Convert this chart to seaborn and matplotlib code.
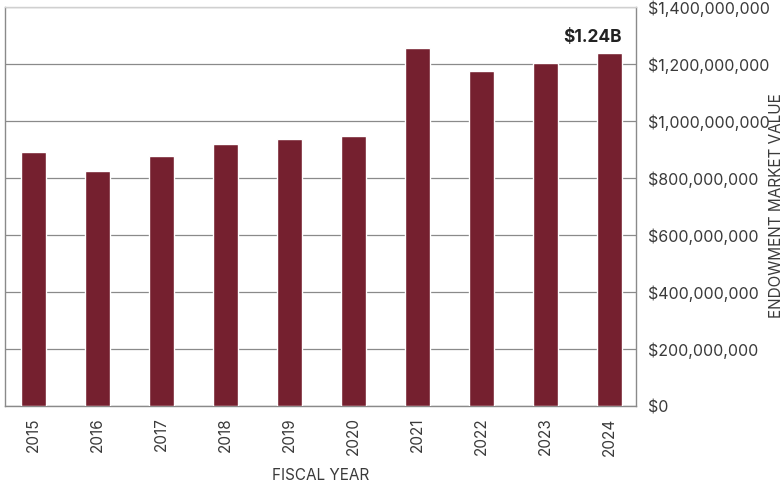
import matplotlib
matplotlib.use("Agg")
import matplotlib.pyplot as plt
import matplotlib.ticker as mticker
import numpy as np
import pandas as pd
import seaborn as sns

# Endowment market value by fiscal year
years = ["2015", "2016", "2017", "2018", "2019", "2020", "2021", "2022", "2023", "2024"]
values = [891e6, 825e6, 877e6, 919e6, 937e6, 947e6, 1256e6, 1175e6, 1204e6, 1239e6]
y_ticks = [0, 200e6, 400e6, 600e6, 800e6, 1000e6, 1200e6, 1400e6]
last_label = "$1.24B"

BAR_COLOR = "#75202f"
TEXT_COLOR = "#3a3a3a"
GRID_COLOR = "#8a8a8a"
BAR_WIDTH = 0.39

sns.set_theme(style="white")
plt.rcParams["font.family"] = ["Inter", "DejaVu Sans"]

df = pd.DataFrame({"year": years, "value": values})

fig = plt.figure(figsize=(7.84, 4.87), dpi=100)
ax = fig.add_axes([0.0064, 0.166, 0.805, 0.820])

sns.barplot(data=df, x="year", y="value", ax=ax, color=BAR_COLOR,
            width=BAR_WIDTH, saturation=1, zorder=3)

ax.set_xlim(-0.44, 9.42)
ax.set_ylim(0, 1400e6)
ax.set_yticks(y_ticks)
ax.yaxis.tick_right()
ax.yaxis.set_major_formatter(mticker.FuncFormatter(lambda v, _: f"${v:,.0f}"))
ax.yaxis.grid(True, color=GRID_COLOR, linewidth=0.9, zorder=0)
ax.tick_params(axis="y", length=0, pad=8.5, labelsize=11.5, labelcolor=TEXT_COLOR)
ax.tick_params(axis="x", length=0, pad=8, labelsize=11, labelcolor=TEXT_COLOR,
               labelrotation=90)

for side in ["left", "right", "bottom"]:
    ax.spines[side].set_color(GRID_COLOR)
    ax.spines[side].set_linewidth(1.0)
ax.spines["top"].set_color("#d0d0d0")
ax.spines["top"].set_linewidth(1.0)

ax.set_xlabel("")
ax.set_ylabel("")

# callout above the latest bar, right-aligned with the bar edge
last = len(years) - 1
ax.annotate(last_label, xy=(last + BAR_WIDTH / 2, values[-1]), xytext=(0, 5),
            textcoords="offset points", ha="right", va="bottom",
            fontsize=12.5, fontweight="bold", color="#222222")

fig.text(0.409, 0.008, "FISCAL YEAR", ha="center", va="bottom",
         fontsize=11, color=TEXT_COLOR)
fig.text(0.991, 0.577, "ENDOWMENT MARKET VALUE", ha="center", va="center",
         rotation=90, fontsize=11, color=TEXT_COLOR)

fig.savefig("out.png", dpi=100)
plt.close(fig)
